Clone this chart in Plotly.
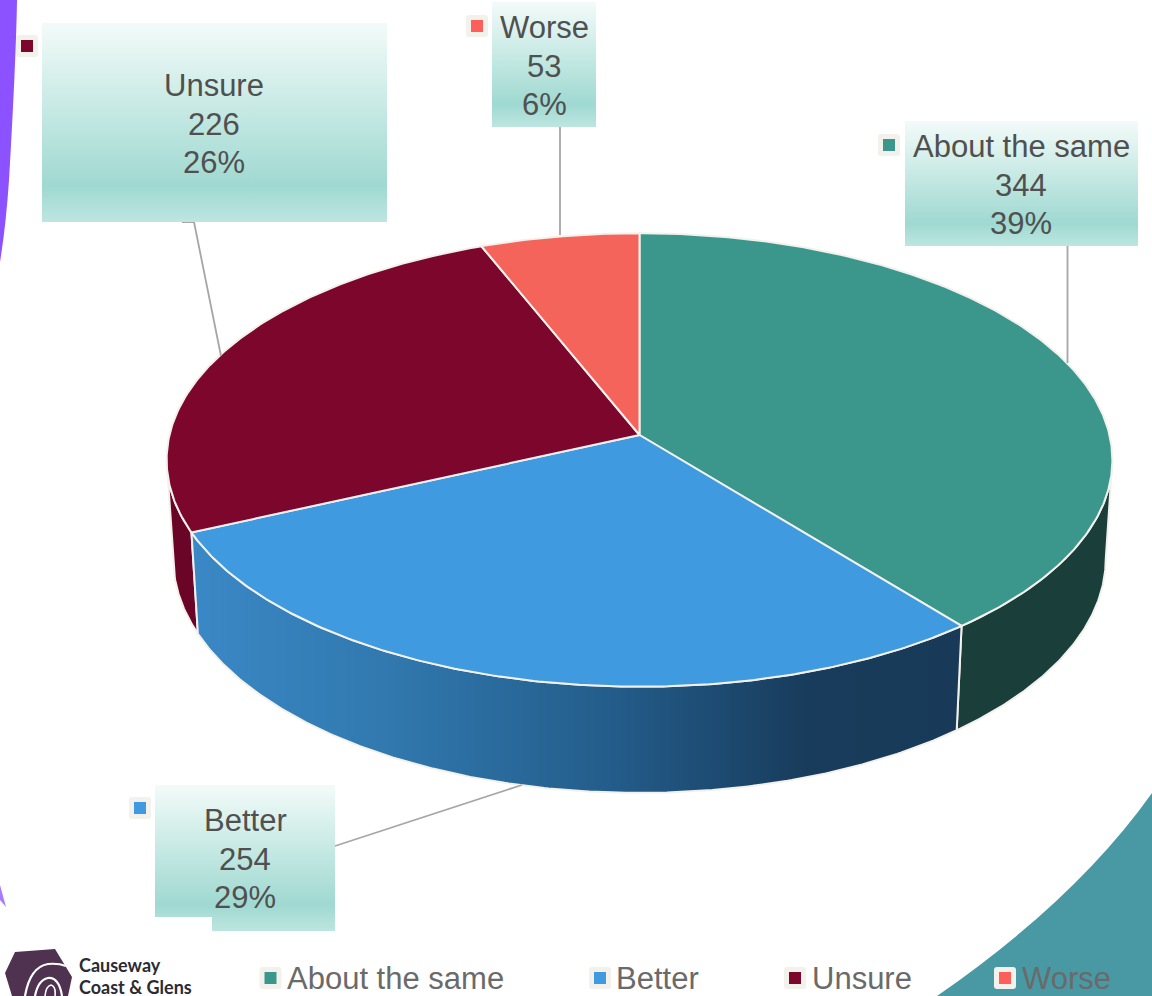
import numpy as np
import plotly.graph_objects as go

categories = ["About the same", "Better", "Unsure", "Worse"]
values = [344, 254, 226, 53]

top_colors = ["#3b978c", "#3f9ae0", "#7d072c", "#f4645b"]
key_colors = ["#3b978c", "#3f9ae0", "#7d072c", "#ff5f5b"]
RIM = "#f3f1ec"
FONT = "Liberation Sans"
W, H = 1152, 996

# perspective disc model (pixel space)
CX, CY, A, B, K, DROP, C = 639.5, 435, 470, 224, 0.11, 99.5, 0.014
total = sum(values)
edges = np.cumsum([0] + values) / total * 360.0


def rim(t, low=False):
    t = np.radians(t)
    w = 1 + K * np.cos(t) + (C if low else 0)
    x = CX + A * np.sin(t) / w
    y = CY - (B * np.cos(t) - (DROP if low else 0)) / w
    return x, y


def arc(a, b, low=False):
    n = max(3, int(abs(b - a) * 2))
    return rim(np.linspace(a, b, n), low)


fig = go.Figure()


def poly(x, y, color=None, line=RIM, lw=2, grad=None):
    kw = dict(x=list(x), y=list(y), mode="lines", fill="toself", hoverinfo="skip",
              showlegend=False, line=dict(color=line, width=lw))
    if grad is not None:
        kw["fillgradient"] = grad
        kw["fillcolor"] = None
    else:
        kw["fillcolor"] = color
    fig.add_trace(go.Scatter(**kw))


# side walls
lim = np.degrees(np.arccos(-K))
walls = [
    (lim, edges[1], "#1a3e3a", None),
    (edges[2], 360 - lim, "#6b0527", None),
    (edges[1], edges[2], None, dict(type="horizontal", start=191, stop=960, colorscale=[
        [0, "#3a88c6"], [0.25, "#3179af"], [0.55, "#235c8a"], [0.8, "#183c5c"], [1, "#183a58"]])),
]
for a, b, col, grad in walls:
    xt, yt = arc(a, b)
    xb, yb = arc(b, a, True)
    poly(np.r_[xt, xb, xt[0]], np.r_[yt, yb, yt[0]], col, grad=grad)

# top slices
for i, col in enumerate(top_colors):
    xt, yt = arc(edges[i], edges[i + 1])
    poly(np.r_[CX, xt, CX], np.r_[CY, yt, CY], col)

# leader lines
leaders = [
    ([1067.5, 1067.5], [246, 363]),
    ([335, 522], [846, 785]),
    ([182, 194, 221], [222, 222, 356]),
    ([560, 560], [127, 235]),
]
for lx, ly in leaders:
    fig.add_trace(go.Scatter(x=lx, y=ly, mode="lines", hoverinfo="skip", showlegend=False,
                             line=dict(color="#a6a6a6", width=1.8)))

# label boxes with vertical gradient
boxes = [
    ([905, 1138, 1138, 905, 905], [121, 121, 246, 246, 121]),
    ([155, 335, 335, 212, 212, 155, 155], [785, 785, 931, 931, 917, 917, 785]),
    ([42, 387, 387, 42, 42], [23, 23, 222, 222, 23]),
    ([492, 596, 596, 492, 492], [2, 2, 127, 127, 2]),
]
for bx, by in boxes:
    poly(bx, by, line="rgba(0,0,0,0)", lw=0, grad=dict(
        type="vertical", start=min(by), stop=max(by),
        colorscale=[[0, "#f3fbf9"], [0.82, "#9fd9d1"], [1, "#bde6e0"]]))

# background shapes
NOFILL = "rgba(0,0,0,0)"
shapes = [
    dict(type="path", path="M 0 0 L 17 0 Q 16 60 9 180 Q 6 225 0 262 Z",
         fillcolor="#8c52ff", line_width=0, layer="below"),
    dict(type="path", path="M 0 885 L 6 907 L 0 900 Z", fillcolor="#a77dff", line_width=0, layer="below"),
    dict(type="path", path="M 937 996 Q 1076 900 1152 793 L 1152 996 Z",
         fillcolor="#4899a4", line_width=0, layer="below"),
    dict(type="path", path="M 15 952 L 55 949 L 72 977 L 68 996 L 12 996 L 5 973 Z",
         fillcolor="#4f3150", line_width=0, layer="below"),
    dict(type="path", path="M 25 996 Q 30 967 48 964 Q 58 963 66 966",
         fillcolor=NOFILL, line=dict(color="#ffffff", width=2.2), layer="below"),
    dict(type="path", path="M 35 996 Q 38 980 48 978 Q 59 977 62 996",
         fillcolor=NOFILL, line=dict(color="#ffffff", width=2.2), layer="below"),
    dict(type="path", path="M 45 996 Q 46 986 51 985 Q 56 986 55 996",
         fillcolor=NOFILL, line=dict(color="#ffffff", width=1.6), layer="below"),
]

# legend keys (callout + bottom legend)
callout_keys = [(889, 145), (140, 808), (27, 46), (477, 26)]
legend_keys = [(270.5, 978), (600, 978), (795, 978), (1005, 978)]
for i, pts in enumerate(zip(callout_keys, legend_keys)):
    for (x, y) in pts:
        r0, r1 = 11, 3
        shapes.append(dict(type="path", fillcolor="#f3f1ec", line_width=0, layer="above",
                           path=f"M {x-r0+r1} {y-r0} L {x+r0-r1} {y-r0} Q {x+r0} {y-r0} {x+r0} {y-r0+r1} "
                                f"L {x+r0} {y+r0-r1} Q {x+r0} {y+r0} {x+r0-r1} {y+r0} "
                                f"L {x-r0+r1} {y+r0} Q {x-r0} {y+r0} {x-r0} {y+r0-r1} "
                                f"L {x-r0} {y-r0+r1} Q {x-r0} {y-r0} {x-r0+r1} {y-r0} Z"))
        shapes.append(dict(type="rect", x0=x - 6, x1=x + 6, y0=y - 6, y1=y + 6,
                           fillcolor=key_colors[i], line_width=0, layer="above"))

annotations = []


def text(x, y, s, size=31, color="#505050", anchor="center", weight=400, family=FONT):
    annotations.append(dict(x=x, y=y, text=s, showarrow=False, xanchor=anchor, yanchor="middle",
                            xref="x", yref="y", font=dict(family=family, size=size, color=color, weight=weight)))


label_pos = [(1021, 146), (245, 820), (214, 85), (544, 27)]
for i, (x, y) in enumerate(label_pos):
    text(x, y, categories[i])
    text(x, y + 39, str(values[i]))
    text(x, y + 77, f"{round(values[i] / total * 100)}%")

legend_text_x = [285, 614, 810, 1020]
for i, x in enumerate(legend_text_x):
    text(x, 978, categories[i], color="#6a6a6a", anchor="left")

text(77, 964.5, "Causeway", size=18, color="#2b2b33", anchor="left", weight=700, family="Lato")
text(77, 986.5, "Coast &amp; Glens", size=18, color="#2b2b33", anchor="left", weight=700, family="Lato")

fig.update_layout(
    width=W, height=H, margin=dict(l=0, r=0, t=0, b=0), autosize=False,
    paper_bgcolor="#ffffff", plot_bgcolor="#ffffff", showlegend=False,
    xaxis=dict(range=[0, W], visible=False, fixedrange=True),
    yaxis=dict(range=[H, 0], visible=False, fixedrange=True),
    shapes=shapes, annotations=annotations,
)

fig.write_html("out.html", config=dict(displayModeBar=False),
               post_script="document.body.style.margin='0';document.body.style.overflow='hidden';")
